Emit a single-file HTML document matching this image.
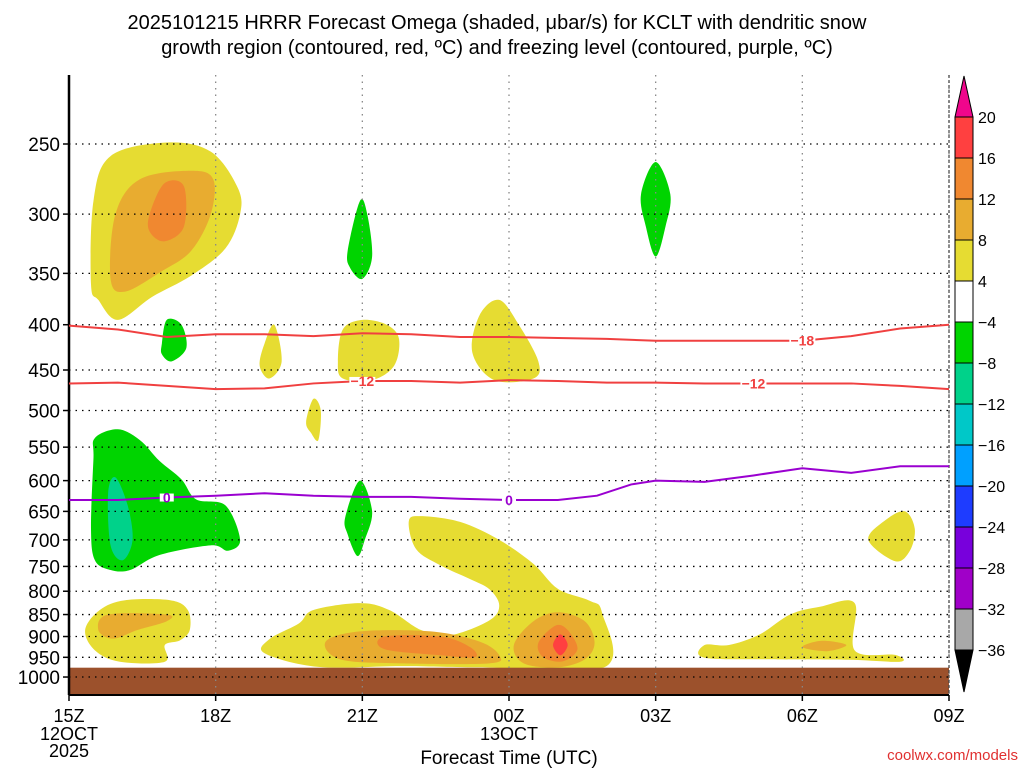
<!DOCTYPE html>
<html><head><meta charset="utf-8"><style>
html,body{margin:0;padding:0;background:#fff;}
svg{display:block;font-family:"Liberation Sans",sans-serif;}
</style></head><body>
<svg id="chart" width="1024" height="768" viewBox="0 0 1024 768">
<text x="497" y="29" text-anchor="middle" font-size="20" fill="#000">2025101215 HRRR Forecast Omega (shaded, μbar/s) for KCLT with dendritic snow</text>
<text x="497" y="54" text-anchor="middle" font-size="20" fill="#000">growth region (contoured, red, ºC) and freezing level (contoured, purple, ºC)</text>
<g id="plot"></g>
<text x="509" y="764" text-anchor="middle" font-size="19" fill="#000">Forecast Time (UTC)</text>
<text x="1018" y="760" text-anchor="end" font-size="15" fill="#e03030">coolwx.com/models</text>
</svg>
<script>
const pLevels=[250,300,350,400,450,500,550,600,650,700,750,800,850,900,950,1000];
const xTickHours=[0,3,6,9,12,15,18];
const xTickLabels=["15Z","18Z","21Z","00Z","03Z","06Z","09Z"];
const cbLabels=["20","16","12","8","4","-4","-8","-12","-16","-20","-24","-28","-32","-36"];
const cbColors=["#ff4040","#f08830","#e8ac30","#e6dc32","#ffffff","#00d400","#00d28a","#00c8c8","#00a0ff","#1e3cff","#7800dc","#a000c8","#a8a8a8"];
const lineHours=[0,1,2,3,4,5,6,7,8,9,10,11,12,13,14,15,16,17,18];
const m18Press=[401,405,413,410,410,412,409,410,413,413,414,415,417,417,417,417,412,404,400];
const m12Press=[466,465,469,473,472,466,463,463,465,462,463,465,465,466,466,466,466,469,473];
const fzHours=[0,1,2,3,4,5,6,7,8,9,10,10.8,11.5,12,13,14,15,16,17,18];
const fzPress=[631,631,627,624,620,624,626,626,629,631,631,624,606,600,602,592,581,588,578,578];
const groundPress=976;
const blobs=[
 {c:3,pts:[[0.45,360],[0.5,290],[0.85,258],[2,249],[2.9,255],[3.45,280],[3.5,300],[3.2,328],[2.5,352],[1.7,372],[1.0,395],[0.6,375]]},
 {c:2,pts:[[0.85,355],[0.95,300],[1.45,274],[2.5,268],[2.95,274],[2.9,300],[2.5,330],[1.9,348],[1.15,367]]},
 {c:1,pts:[[1.65,300],[1.95,277],[2.35,279],[2.35,310],[1.95,322],[1.65,314]]},
 {c:5,pts:[[1.9,420],[2.0,395],[2.3,400],[2.4,425],[2.1,440],[1.9,432]]},
 {c:3,pts:[[3.9,445],[4.0,420],[4.2,400],[4.35,440],[4.1,460]]},
 {c:5,pts:[[5.7,330],[5.95,290],[6.1,300],[6.2,335],[6.0,355],[5.75,345]]},
 {c:3,pts:[[5.5,440],[5.6,405],[6.0,395],[6.5,400],[6.75,415],[6.65,445],[6.2,462],[5.6,460]]},
 {c:3,pts:[[8.25,430],[8.4,390],[8.8,375],[9.2,400],[9.6,440],[9.5,460],[8.7,462]]},
 {c:5,pts:[[11.7,285],[12.0,262],[12.3,285],[12.2,310],[12.0,335],[11.8,310]]},
 {c:3,pts:[[4.85,515],[5.0,485],[5.15,500],[5.1,540],[4.95,530]]},
 {c:5,pts:[[0.5,567],[0.53,537],[1,525],[1.45,540],[1.85,570],[2.3,598],[2.6,630],[3.2,640],[3.5,700],[3.25,720],[2.9,710],[1.85,728],[1.25,757],[0.85,757],[0.53,738],[0.45,680]]},
 {c:6,pts:[[0.8,620],[0.95,595],[1.2,640],[1.3,700],[1.1,738],[0.85,710]]},
 {c:5,pts:[[5.65,660],[5.95,600],[6.2,650],[6.05,700],[5.9,730],[5.7,690]]},
 {c:3,pts:[[6.95,667],[7.2,658],[8,668],[8.8,700],[9.5,745],[10,795],[10.65,820],[10.9,845],[10.95,975],[8.4,975],[6.8,972],[5.1,974],[4.0,940],[4.1,906],[4.7,870],[5.0,840],[5.95,825],[6.55,840],[7.2,885],[7.8,897],[8.6,863],[8.8,830],[8.6,796],[8.2,775],[7.6,748],[7.1,717]]},
 {c:2,pts:[[5.25,912],[5.95,888],[7.4,888],[8.4,912],[8.8,945],[8.6,965],[6.8,965],[5.55,955]]},
 {c:1,pts:[[6.45,900],[7.6,900],[8.2,925],[8.3,950],[7.6,945],[6.45,930]]},
 {c:2,pts:[[9.1,920],[9.5,865],[10.0,845],[10.55,865],[10.75,915],[10.55,955],[10,975],[9.3,965]]},
 {c:1,pts:[[9.6,915],[9.95,875],[10.2,885],[10.4,930],[10.1,960],[9.7,950]]},
 {c:0,pts:[[9.9,920],[10.05,895],[10.2,920],[10.05,945]]},
 {c:3,pts:[[0.33,885],[0.63,840],[1.15,819],[2.07,819],[2.43,840],[2.47,885],[2.27,909],[1.96,920],[1.96,961],[1.04,961],[0.53,933]]},
 {c:2,pts:[[0.6,885],[0.8,850],[2.0,850],[2.0,865],[1.4,885],[0.9,905]]},
 {c:3,pts:[[13,920],[13,951],[14.5,955],[15.97,956],[17,961],[16.9,944],[16.07,933],[16.07,825],[15.36,833],[14.75,850],[14.13,895],[13.5,920]]},
 {c:2,pts:[[15.0,925],[15.4,910],[15.9,920],[15.5,935]]},
 {c:3,pts:[[16.35,700],[16.7,665],[17.1,650],[17.3,680],[17.2,720],[16.9,740]]}
];
const labelsM18=[15];const labelsM12=[6,14];const labelsFz=[2,9];

const X0=69,X1=949,Y0=75,Y1=695;
const xs=h=>X0+h*(X1-X0)/18;
const ys=p=>144+384.5*Math.log(p/250);
const NS="http://www.w3.org/2000/svg";
const plot=document.getElementById('plot');
function mk(tag,attrs,parent){const e=document.createElementNS(NS,tag);for(const k in attrs)e.setAttribute(k,attrs[k]);(parent||plot).appendChild(e);return e;}
function smooth(pts){const n=pts.length;let d=`M${pts[0][0]},${pts[0][1]}`;
 for(let i=0;i<n;i++){const p0=pts[(i-1+n)%n],p1=pts[i],p2=pts[(i+1)%n],p3=pts[(i+2)%n];
 d+=`C${p1[0]+(p2[0]-p0[0])/6},${p1[1]+(p2[1]-p0[1])/6} ${p2[0]-(p3[0]-p1[0])/6},${p2[1]-(p3[1]-p1[1])/6} ${p2[0]},${p2[1]}`;}return d+'Z';}
function linePath(hs,ps){return hs.map((h,i)=>(i?'L':'M')+xs(h)+','+ys(ps[i])).join('');}
function interp(hs,ps,h){for(let i=1;i<hs.length;i++)if(h<=hs[i]){const t=(h-hs[i-1])/(hs[i]-hs[i-1]);return ps[i-1]+t*(ps[i]-ps[i-1]);}return ps[ps.length-1];}

const clip=mk('clipPath',{id:'pc'});mk('rect',{x:X0,y:Y0,width:X1-X0,height:Y1-Y0},clip);
const g=mk('g',{'clip-path':'url(#pc)'});
blobs.forEach((b,i)=>{const e=mk('path',{d:smooth(b.pts.map(q=>[xs(q[0]),ys(q[1])])),fill:cbColors[b.c]},g);
 
 });
const gr=mk('rect',{x:X0,y:ys(groundPress),width:X1-X0,height:Y1-ys(groundPress),fill:'#9c512c'},g);


pLevels.forEach(p=>{const l=mk('line',{x1:X0,x2:X1,y1:ys(p),y2:ys(p),stroke:'#000','stroke-width':1.3,'stroke-dasharray':'1.5,5'});
 
 
 const t=mk('text',{x:60,y:ys(p)+7,'text-anchor':'end','font-size':19,fill:'#000'});t.textContent=p;
 
 
 mk('line',{x1:X0,x2:X0-6,y1:ys(p),y2:ys(p),stroke:'#000','stroke-width':1.5});});
xTickHours.forEach((h,i)=>{const l=mk('line',{x1:xs(h),x2:xs(h),y1:Y0,y2:Y1,stroke:'#888','stroke-width':1.3,'stroke-dasharray':'1.5,5'});
 
 
 mk('line',{x1:xs(h),x2:xs(h),y1:Y1,y2:Y1+6,stroke:'#000','stroke-width':1.5});
 const t=mk('text',{x:xs(h),y:722,'text-anchor':'middle','font-size':18,fill:'#000'});t.textContent=xTickLabels[i];
 
 });
[["12OCT",0,740],["2025",0,757],["13OCT",9,740]].forEach(a=>{const t=mk('text',{x:xs(a[1]),y:a[2],'text-anchor':'middle','font-size':18,fill:'#000'});t.textContent=a[0];
 
 });
mk('line',{x1:X0,x2:X0,y1:Y0,y2:Y1,stroke:'#000','stroke-width':2.5});
mk('line',{x1:X0,x2:X1,y1:Y1,y2:Y1,stroke:'#000','stroke-width':2});
mk('line',{x1:X1,x2:X1,y1:Y0,y2:Y1,stroke:'#444','stroke-width':1.2,'stroke-dasharray':'3,2'});
function contour(hs,ps,col,name,labs,txt){const e=mk('path',{d:linePath(hs,ps),fill:'none',stroke:col,'stroke-width':2});
 
 
 labs.forEach(h=>{const y=ys(interp(hs,ps,h));const w=txt.length>1?26:14;mk('rect',{x:xs(h)-w/2,y:y-4,width:w,height:8,fill:'#fff'});
 const t=mk('text',{x:xs(h),y:y+5,'text-anchor':'middle','font-size':14,'font-weight':'bold',fill:col});t.textContent=txt;
 
 });}
contour(lineHours,m18Press,'#f04040','contour-minus18',labelsM18,'−18');
contour(lineHours,m12Press,'#f04040','contour-minus12',labelsM12,'−12');
contour(fzHours,fzPress,'#9a00d0','freezing-level',labelsFz,'0');
const cbx=955,cbw=18,cbTop=117,cbBot=650,bh=(cbBot-cbTop)/13;
const tri=mk('path',{d:`M${cbx},${cbTop}L${cbx+cbw/2},76L${cbx+cbw},${cbTop}Z`,fill:'#f0068c',stroke:'#000'});


cbColors.forEach((c,i)=>{const r=mk('rect',{x:cbx,y:cbTop+i*bh,width:cbw,height:bh,fill:c,stroke:'#000','stroke-width':1});
 
 });
const tri2=mk('path',{d:`M${cbx},${cbBot}L${cbx+cbw/2},692L${cbx+cbw},${cbBot}Z`,fill:'#000',stroke:'#000'});


cbLabels.forEach((s,i)=>{const t=mk('text',{x:978,y:cbTop+i*bh+6,'font-size':16,fill:'#000'});t.textContent=s.replace('-','−');
 
 });
</script>
</body></html>
